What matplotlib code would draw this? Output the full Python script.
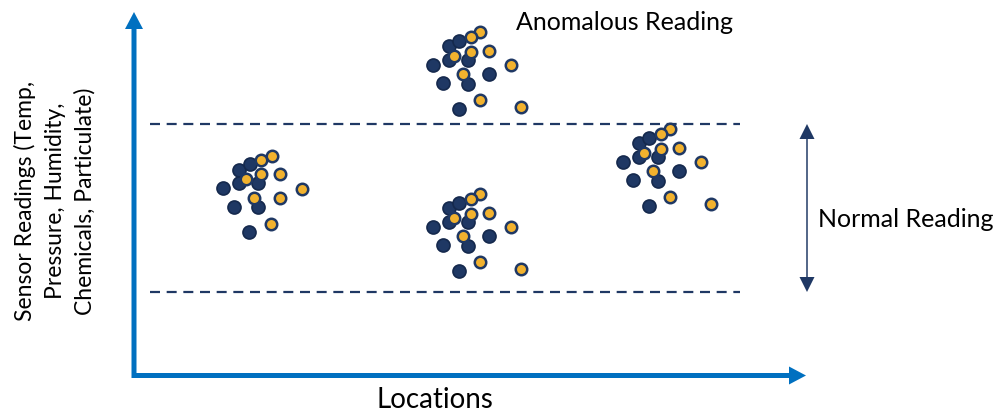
import numpy as np
import matplotlib.pyplot as plt

plt.rcParams['font.family'] = ['Lato', 'DejaVu Sans']

# cluster points (x, y measured downward from the top edge)
c1_dark_x = [223, 239, 250, 239, 258, 234, 258, 249]
c1_dark_y = [188, 170, 164, 183, 183, 207, 207, 232]
c1_yel_x = [272, 261, 246, 261, 280, 302, 254, 280, 271]
c1_yel_y = [156, 160, 179, 174, 174, 189, 198, 198, 224]

c2_dark_x = [433, 449, 459, 449, 468, 489, 443, 468, 459]
c2_dark_y = [65, 46, 41, 60, 60, 74, 83, 84, 109]
c2_yel_x = [480, 471, 454, 471, 489, 511, 463, 480, 521]
c2_yel_y = [32, 37, 56, 52, 51, 65, 74, 100, 107]

c3_dark_x = [433, 449, 459, 449, 468, 489, 443, 468, 459]
c3_dark_y = [227, 208, 203, 222, 222, 236, 245, 246, 271]
c3_yel_x = [480, 471, 454, 471, 489, 511, 463, 480, 521]
c3_yel_y = [194, 199, 218, 214, 213, 227, 236, 262, 269]

c4_dark_x = [623, 639, 649, 639, 658, 679, 633, 658, 649]
c4_dark_y = [162, 143, 138, 157, 157, 171, 180, 181, 206]
c4_yel_x = [670, 661, 644, 661, 679, 701, 653, 670, 711]
c4_yel_y = [129, 134, 153, 149, 148, 162, 171, 197, 204]

upper_limit = 124
lower_limit = 292

navy = '#1F3864'
edge = '#15294D'
yellow = '#F2B22E'
blue = '#0070C0'

fig = plt.figure(figsize=(9.93, 4.15), dpi=100)
ax = fig.add_axes([0, 0, 1, 1])
ax.set_xlim(0, 993)
ax.set_ylim(415, 0)
ax.axis('off')

# axes arrows
ax.arrow(134, 378, 0, -366, width=5, head_width=18, head_length=17,
         length_includes_head=True, color=blue, lw=0)
ax.arrow(132, 375.5, 674, 0, width=5, head_width=18, head_length=17,
         length_includes_head=True, color=blue, lw=0)

# normal band
for yy in [upper_limit, lower_limit]:
    ax.plot([150, 740], [yy, yy], color=navy, lw=1.6, linestyle=(0, (4.5, 3)))

mid = (upper_limit + lower_limit) / 2
ax.arrow(807, mid, 0, upper_limit - mid, width=1.5, head_width=15, head_length=15,
         length_includes_head=True, color=navy, lw=0)
ax.arrow(807, mid, 0, lower_limit - mid, width=1.5, head_width=15, head_length=15,
         length_includes_head=True, color=navy, lw=0)

clusters = [
    (c1_dark_x, c1_dark_y, c1_yel_x, c1_yel_y),
    (c2_dark_x, c2_dark_y, c2_yel_x, c2_yel_y),
    (c3_dark_x, c3_dark_y, c3_yel_x, c3_yel_y),
    (c4_dark_x, c4_dark_y, c4_yel_x, c4_yel_y),
]
for dx, dy, yx, yy in clusters:
    ax.scatter(dx, dy, s=88, color=navy, edgecolors=edge, linewidths=1.2, zorder=3)
    ax.scatter(yx, yy, s=68, color=yellow, edgecolors=navy, linewidths=1.8, zorder=4)

ax.text(516, 22, 'Anomalous Reading', fontsize=18, va='center', ha='left')
ax.text(818, 219, 'Normal Reading', fontsize=18, va='center', ha='left')
ax.text(435, 400, 'Locations', fontsize=20, va='center', ha='center')
ax.text(55, 201, 'Sensor Readings (Temp,\nPressure, Humidity,\nChemicals, Particulate)',
        fontsize=16.5, rotation=90, va='center', ha='center', linespacing=1.5,
        multialignment='center')

fig.savefig('out.png', dpi=100)
